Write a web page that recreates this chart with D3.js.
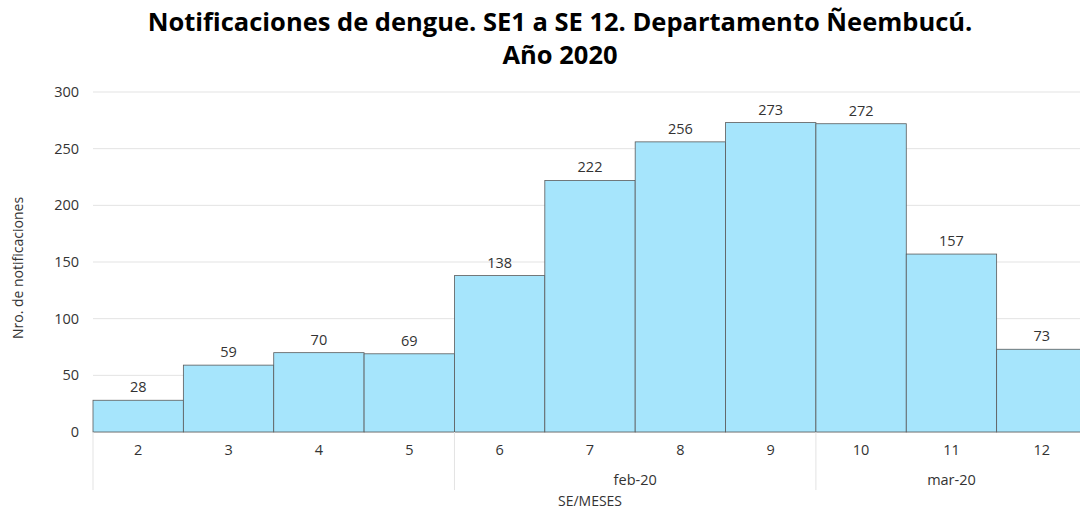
<!DOCTYPE html>
<html>
<head>
<meta charset="utf-8">
<script src="https://cdn.jsdelivr.net/npm/d3@7"></script>
<style>
  body { margin: 0; background: #fff; }
  text { font-family: "Open Sans", "Noto Sans", sans-serif; }
</style>
</head>
<body>
<div id="chart"></div>
<script>
// semanas epidemiologicas y notificaciones
var weeks = ["2", "3", "4", "5", "6", "7", "8", "9", "10", "11", "12"];
var cases = [28, 59, 70, 69, 138, 222, 256, 273, 272, 157, 73];
// grupos de meses en el eje x (primero sin etiqueta)
var months = ["", "feb-20", "mar-20"];
var monthStart = ["2", "6", "10"];
var monthEnd = ["5", "9", "12"];
var yTicks = [0, 50, 100, 150, 200, 250, 300];

var W = 1080, H = 514;
var margin = {top: 92, right: -7, bottom: 82, left: 93},
    width = W - margin.left - margin.right,
    height = H - margin.top - margin.bottom;

var svg = d3.select("#chart").append("svg")
  .attr("width", W).attr("height", H);

// titulo
svg.append("text")
  .attr("x", 560).attr("y", 31)
  .attr("text-anchor", "middle")
  .style("font-size", "25.5px").style("font-weight", "bold")
  .text("Notificaciones de dengue. SE1 a SE 12. Departamento Ñeembucú.");
svg.append("text")
  .attr("x", 560).attr("y", 64)
  .attr("text-anchor", "middle")
  .style("font-size", "25.5px").style("font-weight", "bold")
  .text("Año 2020");

var g = svg.append("g")
  .attr("transform", "translate(" + margin.left + "," + margin.top + ")");

var x = d3.scaleBand().domain(weeks).range([0, width]).padding(0);
var y = d3.scaleLinear().domain([0, 300]).range([height, 0]);

// grilla
g.selectAll(".grid").data(yTicks).enter().append("line")
  .attr("x1", 0).attr("x2", width)
  .attr("y1", function(d) { return y(d); })
  .attr("y2", function(d) { return y(d); })
  .attr("stroke", "#e3e3e3").attr("stroke-width", 1);

// eje y
var yAxis = g.append("g")
  .call(d3.axisLeft(y).tickValues(yTicks).tickSize(0).tickPadding(14));
yAxis.select(".domain").remove();
yAxis.selectAll("text")
  .style("font-size", "14.5px").attr("fill", "#333");

// barras
g.selectAll("rect.bar").data(cases).enter().append("rect")
  .attr("class", "bar")
  .attr("x", function(d, i) { return x(weeks[i]); })
  .attr("y", function(d) { return y(d); })
  .attr("width", x.bandwidth())
  .attr("height", function(d) { return height - y(d); })
  .attr("fill", "#a6e5fc")
  .attr("stroke", "#5a5a5a")
  .attr("stroke-width", 0.8);

// etiquetas de valores
g.selectAll("text.val").data(cases).enter().append("text")
  .attr("class", "val")
  .attr("x", function(d, i) { return x(weeks[i]) + x.bandwidth() / 2; })
  .attr("y", function(d) { return y(d) - 8; })
  .attr("text-anchor", "middle")
  .style("font-size", "14.5px").attr("fill", "#333")
  .text(function(d) { return d; });

// eje x: semanas
var xAxis = g.append("g")
  .attr("transform", "translate(0," + height + ")")
  .call(d3.axisBottom(x).tickSize(0).tickPadding(13));
xAxis.select(".domain").remove();
xAxis.selectAll("text")
  .style("font-size", "14.5px").attr("fill", "#333");

// separadores y etiquetas de meses
months.forEach(function(m, i) {
  var x0 = x(monthStart[i]);
  var x1 = x(monthEnd[i]) + x.bandwidth();
  g.append("line")
    .attr("x1", x0).attr("x2", x0)
    .attr("y1", height).attr("y2", height + 58)
    .attr("stroke", "#e3e3e3").attr("stroke-width", 1);
  g.append("text")
    .attr("x", (x0 + x1) / 2).attr("y", height + 53)
    .attr("text-anchor", "middle")
    .style("font-size", "14.5px").attr("fill", "#333")
    .text(m);
});

// titulos de ejes
svg.append("text")
  .attr("x", 590).attr("y", 506)
  .attr("text-anchor", "middle")
  .style("font-size", "14px").attr("fill", "#333")
  .text("SE/MESES");
svg.append("text")
  .attr("transform", "translate(23,268) rotate(-90)")
  .attr("text-anchor", "middle")
  .style("font-size", "14px").attr("fill", "#333")
  .text("Nro. de notificaciones");
</script>
</body>
</html>
